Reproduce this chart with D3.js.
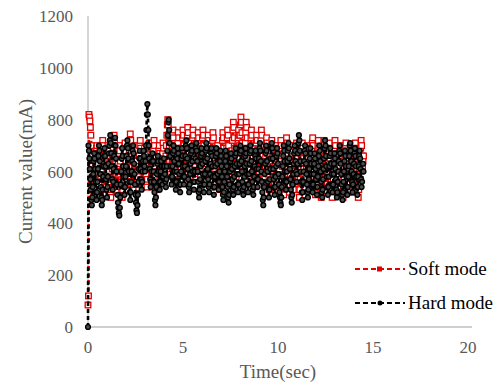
<!DOCTYPE html>
<html>
<head>
<meta charset="utf-8">
<script src="https://cdn.jsdelivr.net/npm/d3@7"></script>
<style>
  body { margin: 0; background: #fff; }
</style>
</head>
<body>
<div id="chart"></div>
<script>
// sampling interval of the recording (sec)
const sampleStep = 0.025;

const xTicks = [0, 5, 10, 15, 20];
const yTicks = [0, 200, 400, 600, 800, 1000, 1200];

// one row = one second of samples
const softMode = [
  85, 120, 820, 810, 795, 770, 740, 700, 660, 620, 580, 540, 510, 500, 530, 570, 610, 650, 690, 700, 670, 630, 590, 550, 520, 500, 530, 570, 610, 650, 690, 720, 700, 660, 620, 580, 540, 510, 540, 580,
  620, 660, 700, 680, 640, 600, 560, 520, 500, 530, 570, 610, 650, 690, 720, 740, 710, 670, 630, 590, 550, 520, 550, 590, 630, 670, 700, 680, 640, 600, 560, 520, 500, 530, 570, 610, 650, 690, 710, 680,
  640, 600, 560, 530, 560, 600, 640, 680, 720, 745, 720, 680, 640, 600, 560, 530, 550, 590, 630, 670, 700, 680, 640, 600, 570, 550, 580, 620, 660, 700, 720, 690, 650, 610, 570, 540, 570, 610, 650, 690,
  670, 630, 590, 560, 540, 570, 610, 650, 690, 710, 690, 650, 610, 570, 540, 560, 600, 640, 680, 720, 700, 660, 620, 580, 550, 530, 560, 600, 640, 680, 700, 670, 630, 590, 560, 590, 630, 670, 710, 690,
  650, 610, 580, 620, 660, 700, 740, 780, 800, 780, 740, 700, 660, 620, 590, 620, 660, 700, 740, 760, 730, 690, 650, 610, 580, 560, 590, 630, 670, 710, 750, 730, 690, 650, 610, 580, 610, 650, 690, 730,
  760, 740, 700, 660, 620, 590, 620, 660, 700, 740, 770, 750, 710, 670, 630, 600, 580, 610, 650, 690, 730, 760, 740, 700, 660, 620, 590, 570, 600, 640, 680, 720, 750, 730, 690, 650, 610, 580, 610, 650,
  690, 730, 760, 740, 700, 660, 620, 590, 560, 590, 630, 670, 710, 740, 720, 680, 640, 600, 570, 600, 640, 680, 720, 750, 730, 690, 650, 610, 580, 560, 590, 630, 670, 700, 680, 640, 600, 560, 530, 560,
  600, 640, 680, 720, 750, 730, 690, 650, 610, 580, 610, 650, 690, 730, 760, 740, 700, 660, 620, 590, 570, 600, 640, 680, 720, 760, 790, 770, 730, 690, 650, 610, 580, 610, 650, 690, 730, 760, 740, 700,
  740, 780, 810, 790, 750, 710, 670, 630, 600, 630, 670, 710, 750, 790, 770, 730, 690, 650, 610, 580, 610, 650, 690, 730, 760, 740, 700, 660, 620, 580, 560, 590, 630, 670, 710, 740, 720, 680, 640, 600,
  570, 600, 640, 680, 720, 760, 740, 700, 660, 620, 580, 550, 580, 620, 660, 700, 730, 710, 670, 630, 590, 560, 530, 560, 600, 640, 680, 720, 700, 660, 620, 580, 550, 580, 620, 660, 700, 690, 650, 610,
  570, 540, 570, 610, 650, 690, 720, 700, 660, 620, 580, 540, 510, 540, 580, 620, 660, 700, 730, 710, 670, 630, 590, 550, 520, 550, 590, 630, 670, 700, 680, 640, 600, 560, 530, 560, 600, 640, 680, 710,
  690, 650, 610, 570, 530, 500, 530, 570, 610, 650, 690, 710, 690, 650, 610, 570, 530, 510, 540, 580, 620, 660, 700, 690, 650, 610, 570, 530, 560, 600, 640, 680, 710, 730, 700, 660, 620, 580, 540, 510,
  540, 580, 620, 660, 700, 720, 690, 650, 610, 570, 530, 500, 530, 570, 610, 650, 690, 720, 700, 660, 620, 580, 540, 520, 550, 590, 630, 670, 710, 690, 650, 610, 570, 530, 500, 530, 570, 610, 650, 690,
  720, 700, 660, 620, 580, 540, 510, 540, 580, 620, 660, 700, 680, 640, 600, 560, 520, 500, 530, 570, 610, 650, 690, 710, 680, 640, 600, 560, 520, 550, 590, 630, 670, 700, 680, 640, 600, 560, 520, 550,
  590, 630, 670, 710, 690, 650, 610, 570, 530, 500, 530, 570, 610, 650, 690, 720, 700, 660, 620, 640, 660
];

const hardMode = [
  0, 700, 680, 650, 610, 570, 530, 490, 470, 500, 540, 590, 640, 670, 650, 610, 560, 520, 490, 520, 560, 610, 660, 700, 680, 640, 590, 540, 500, 470, 490, 530, 580, 620, 660, 690, 660, 620, 570, 530,
  500, 540, 580, 630, 670, 700, 720, 740, 710, 670, 620, 570, 530, 560, 610, 660, 700, 730, 700, 650, 600, 550, 510, 480, 460, 440, 430, 460, 500, 550, 600, 650, 690, 660, 620, 580, 540, 510, 540, 580,
  620, 660, 700, 720, 690, 650, 600, 560, 520, 490, 520, 560, 600, 640, 680, 700, 670, 630, 590, 550, 510, 480, 450, 440, 470, 510, 560, 610, 650, 680, 650, 610, 570, 530, 560, 600, 640, 680, 660, 620,
  600, 640, 700, 760, 820, 860, 820, 760, 700, 650, 610, 570, 540, 560, 600, 640, 670, 640, 600, 560, 520, 490, 470, 500, 540, 590, 630, 660, 640, 600, 560, 530, 560, 600, 640, 620, 580, 550, 580, 620,
  650, 620, 590, 560, 540, 570, 620, 680, 740, 790, 800, 760, 710, 660, 620, 580, 550, 580, 620, 670, 700, 680, 640, 600, 560, 530, 560, 600, 650, 690, 670, 630, 590, 550, 520, 550, 600, 650, 690, 660,
  620, 580, 550, 580, 620, 660, 700, 720, 690, 650, 610, 570, 540, 520, 550, 590, 630, 670, 700, 680, 640, 600, 560, 530, 560, 600, 650, 690, 710, 680, 640, 600, 560, 520, 500, 530, 570, 620, 660, 690,
  670, 630, 590, 550, 520, 550, 590, 640, 680, 710, 690, 650, 610, 570, 540, 520, 550, 590, 630, 670, 690, 660, 620, 580, 540, 510, 540, 580, 620, 660, 690, 670, 630, 590, 560, 530, 560, 600, 640, 680,
  660, 620, 580, 540, 510, 490, 520, 560, 600, 640, 680, 660, 620, 580, 540, 500, 480, 510, 550, 600, 640, 670, 650, 610, 570, 530, 510, 540, 580, 620, 660, 690, 670, 630, 590, 550, 520, 550, 590, 630,
  670, 700, 680, 640, 600, 560, 530, 510, 540, 580, 620, 660, 690, 670, 630, 590, 550, 520, 550, 590, 630, 670, 700, 680, 640, 600, 560, 530, 510, 540, 580, 620, 660, 680, 650, 610, 570, 540, 570, 610,
  650, 690, 710, 680, 640, 600, 560, 520, 490, 470, 500, 540, 590, 630, 670, 700, 680, 640, 600, 560, 530, 500, 530, 570, 610, 650, 690, 710, 690, 650, 610, 570, 540, 510, 540, 580, 620, 660, 690, 670,
  630, 590, 550, 520, 500, 480, 470, 500, 540, 580, 620, 660, 700, 680, 640, 600, 560, 530, 560, 600, 640, 680, 710, 690, 650, 610, 570, 530, 500, 480, 510, 550, 590, 630, 670, 700, 680, 640, 600, 560,
  590, 630, 670, 710, 740, 720, 680, 640, 600, 560, 520, 490, 520, 560, 600, 640, 680, 700, 670, 630, 590, 550, 520, 500, 530, 570, 610, 650, 690, 670, 630, 590, 550, 520, 550, 590, 630, 670, 650, 610,
  570, 540, 510, 540, 580, 620, 660, 700, 680, 640, 600, 560, 520, 500, 530, 570, 610, 650, 690, 720, 700, 660, 620, 580, 540, 510, 540, 580, 620, 660, 690, 670, 630, 590, 550, 520, 550, 590, 630, 670,
  650, 610, 570, 530, 500, 520, 560, 600, 640, 680, 700, 670, 630, 590, 550, 510, 490, 520, 560, 600, 640, 680, 660, 620, 580, 540, 510, 540, 580, 620, 660, 700, 710, 680, 640, 600, 560, 520, 550, 590,
  630, 670, 690, 660, 620, 580, 540, 510, 540, 580, 620, 660, 680, 650, 610, 570, 540, 560, 600, 630, 600
];

const series = [
  {name: 'Soft mode', values: softMode, color: '#e00000', shape: 'square'},
  {name: 'Hard mode', values: hardMode, color: '#000000', shape: 'circle'}
];

const width = 499, height = 386;
const margin = {top: 16, right: 31, bottom: 59, left: 88};
const serif = 'Liberation Serif';
const gray = '#595959';

const svg = d3.select('#chart').append('svg')
  .attr('width', width)
  .attr('height', height);

const x = d3.scaleLinear().domain([0, 20]).range([margin.left, width - margin.right]);
const y = d3.scaleLinear().domain([0, 1200]).range([height - margin.bottom, margin.top]);

// axis lines
svg.append('line')
  .attr('x1', x(0)).attr('x2', x(20) + 4)
  .attr('y1', y(0)).attr('y2', y(0))
  .attr('stroke', '#bfbfbf').attr('stroke-width', 1.3);
svg.append('line')
  .attr('x1', x(0)).attr('x2', x(0))
  .attr('y1', y(0)).attr('y2', y(1200))
  .attr('stroke', '#bfbfbf').attr('stroke-width', 1.3);

// tick labels
svg.append('g').selectAll('text')
  .data(xTicks)
  .join('text')
  .attr('x', d => x(d))
  .attr('y', y(0) + 26)
  .attr('text-anchor', 'middle')
  .attr('font-family', serif)
  .attr('font-size', 17)
  .attr('fill', gray)
  .text(d => d);

svg.append('g').selectAll('text')
  .data(yTicks)
  .join('text')
  .attr('x', x(0) - 15)
  .attr('y', d => y(d) + 6)
  .attr('text-anchor', 'end')
  .attr('font-family', serif)
  .attr('font-size', 17)
  .attr('fill', gray)
  .text(d => d);

// titles
svg.append('text')
  .attr('x', (x(0) + x(20)) / 2)
  .attr('y', 378)
  .attr('text-anchor', 'middle')
  .attr('font-family', serif)
  .attr('font-size', 19)
  .attr('fill', gray)
  .text('Time(sec)');

svg.append('text')
  .attr('transform', `translate(32,${(y(0) + y(1200)) / 2}) rotate(-90)`)
  .attr('text-anchor', 'middle')
  .attr('font-family', serif)
  .attr('font-size', 19)
  .attr('fill', gray)
  .text('Current value(mA)');

const line = d3.line()
  .x((d, i) => x(i * sampleStep))
  .y(d => y(d));

function drawMarker(sel, s, px, py) {
  if (s.shape === 'square') {
    sel.append('rect')
      .attr('x', px - 2.8).attr('y', py - 2.8)
      .attr('width', 5.6).attr('height', 5.6)
      .attr('fill', '#fff')
      .attr('stroke', s.color)
      .attr('stroke-width', 1.3);
  } else {
    sel.append('circle')
      .attr('cx', px).attr('cy', py).attr('r', 2.4)
      .attr('fill', '#4d4d4d')
      .attr('stroke', s.color)
      .attr('stroke-width', 1.4);
  }
}

series.forEach(s => {
  const g = svg.append('g');
  g.append('path')
    .datum(s.values)
    .attr('fill', 'none')
    .attr('stroke', s.color)
    .attr('stroke-width', 2.6)
    .attr('stroke-dasharray', '4,3')
    .attr('d', line);
  s.values.forEach((v, i) => drawMarker(g, s, x(i * sampleStep), y(v)));
});

// legend
const legend = svg.append('g');
series.forEach((s, i) => {
  const ly = 269 + i * 34;
  const lg = legend.append('g');
  lg.append('line')
    .attr('x1', 355).attr('x2', 405)
    .attr('y1', ly).attr('y2', ly)
    .attr('stroke', s.color)
    .attr('stroke-width', 2.2)
    .attr('stroke-dasharray', '5,3');
  if (s.shape === 'square') {
    lg.append('rect').attr('x', 377).attr('y', ly - 2.5).attr('width', 5).attr('height', 5)
      .attr('fill', s.color);
  } else {
    lg.append('circle').attr('cx', 380).attr('cy', ly).attr('r', 2.5).attr('fill', s.color);
  }
  lg.append('text')
    .attr('x', 408)
    .attr('y', ly + 6)
    .attr('font-family', serif)
    .attr('font-size', 19)
    .attr('fill', '#000')
    .text(s.name);
});
</script>
</body>
</html>
